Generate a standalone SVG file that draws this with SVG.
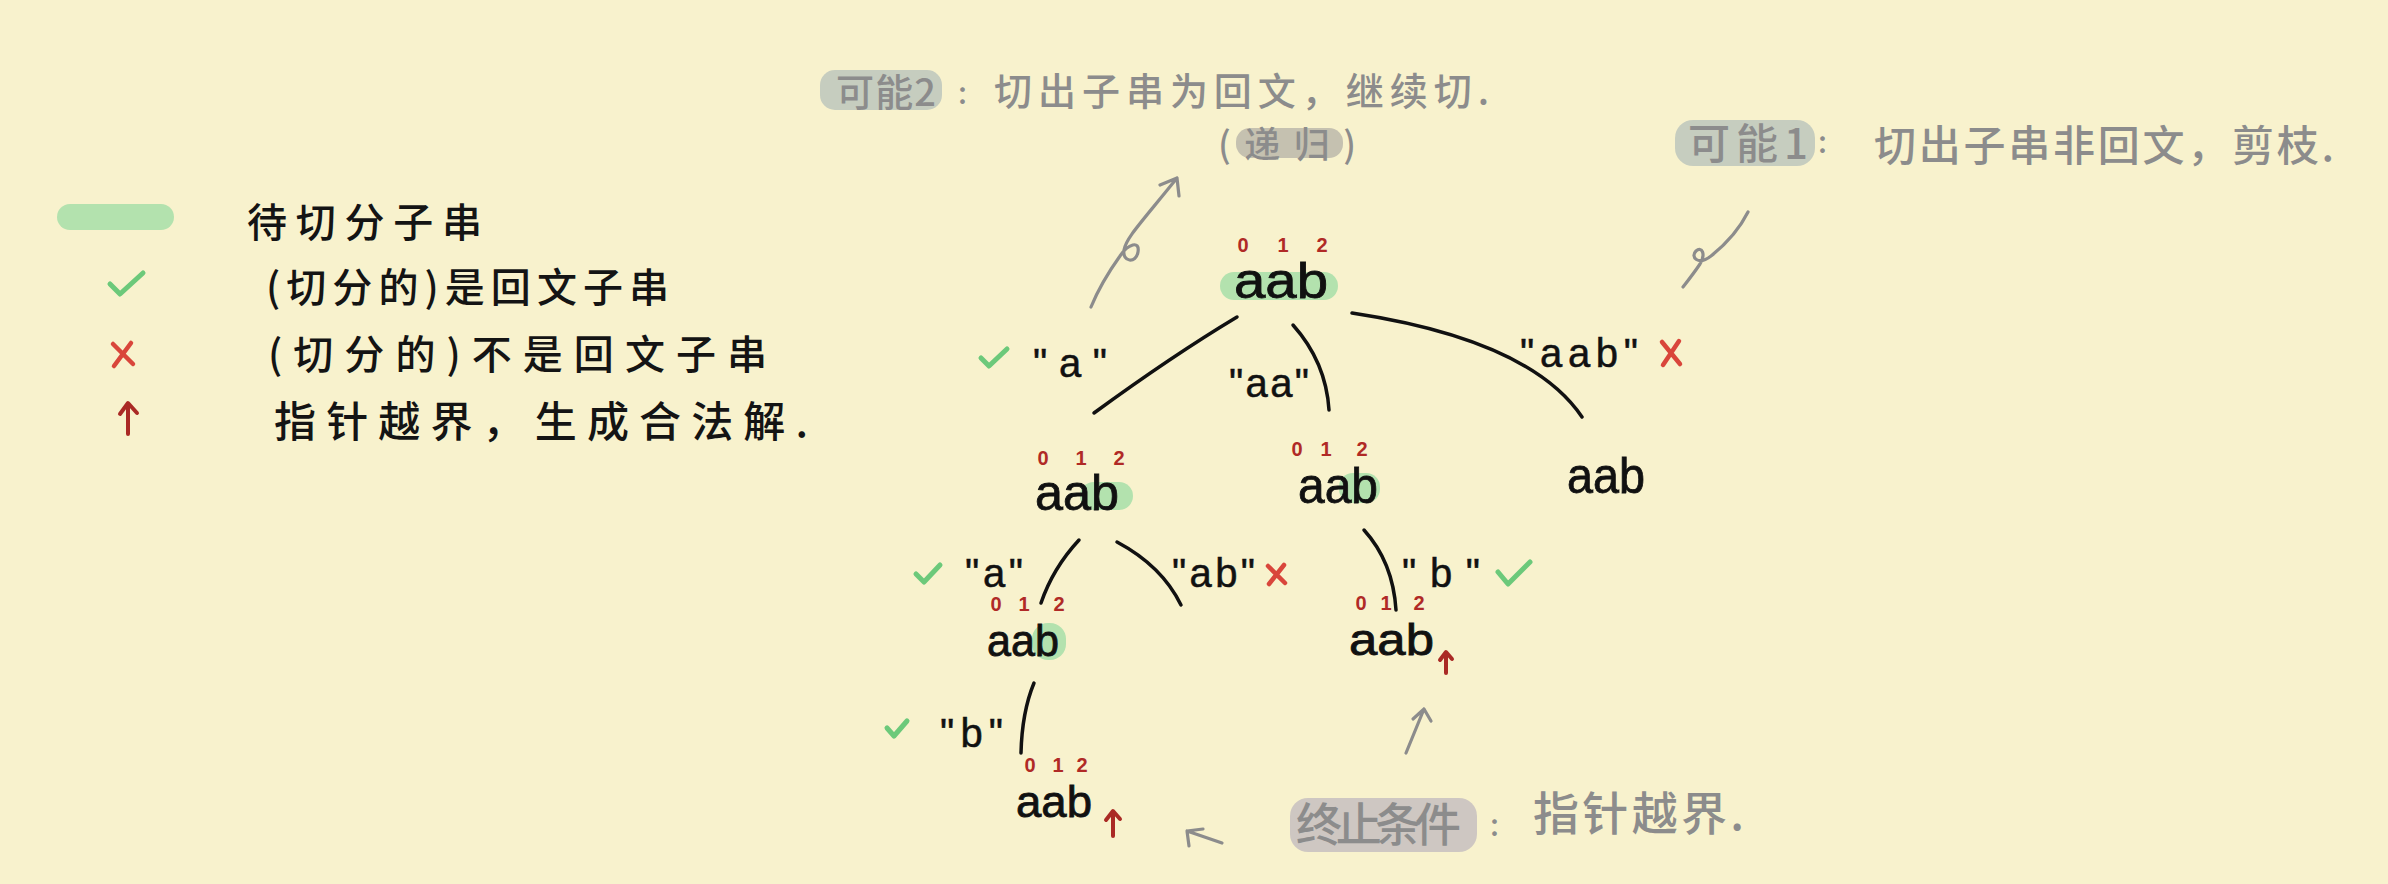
<svg xmlns="http://www.w3.org/2000/svg" width="2388" height="884" viewBox="0 0 2388 884">
<style>
.bg{fill:#f8f2cd}
.cjk{font-family:"Noto Sans CJK SC","Noto Sans",sans-serif;dominant-baseline:central;font-weight:500}
.blk{fill:#141414}
.gry{fill:#8c8c8c}
.str{font-family:"Liberation Sans","DejaVu Sans",sans-serif;font-size:50px;fill:#111;stroke:#111;stroke-width:0.8}
.sm{font-size:44px}
.lbl{font-family:"Liberation Sans","DejaVu Sans",sans-serif;font-size:40px;fill:#111;stroke:#111;stroke-width:0.5}
.idx{font-family:"Liberation Sans","DejaVu Sans",sans-serif;font-size:20px;font-weight:bold;fill:#b02a26;text-anchor:middle}
.hlg{fill:#b3e2ae}
.hgs{fill:#c6cdbf}
.hgb{fill:#c5c1b0}
.hgp{fill:#cec7c2}
.edge{fill:none;stroke:#111;stroke-width:3.5;stroke-linecap:round}
.garr{fill:none;stroke:#8c8c8c;stroke-width:3.2;stroke-linecap:round;stroke-linejoin:round}
.ok{fill:none;stroke:#6cc97a;stroke-width:5;stroke-linecap:round;stroke-linejoin:round}
.no{fill:none;stroke:#d9463b;stroke-width:4.5;stroke-linecap:round}
.up{fill:none;stroke:#aa2a25;stroke-width:4;stroke-linecap:round;stroke-linejoin:round}
</style>
<rect class="bg" x="0" y="0" width="2388" height="884"/>

<g id="legend">
  <rect class="hlg" x="57" y="204" width="117" height="26" rx="13"/>
  <text class="cjk blk" x="247" y="220" font-size="40" textLength="235" lengthAdjust="spacing">待切分子串</text>
  <path class="ok" d="M110,284 L120,294 L143,273"/>
  <text class="cjk blk" x="266" y="285" font-size="40" textLength="403" lengthAdjust="spacing">(切分的)是回文子串</text>
  <path class="no" d="M113,344 L133,364 M131,343 L114,366"/>
  <text class="cjk blk" x="268" y="352" font-size="40" textLength="499" lengthAdjust="spacing">(切分的)不是回文子串</text>
  <path class="up" d="M128,434 L128,404 M120,414 L128,403 L137,413"/>
  <text class="cjk blk" x="274" y="418" font-size="42" textLength="534" lengthAdjust="spacing">指针越界，生成合法解.</text>
</g>

<g id="note-possible2">
  <rect class="hgs" x="820" y="70" width="122" height="40" rx="15"/>
  <text class="cjk gry" x="836" y="89" font-size="38" textLength="100" lengthAdjust="spacing">可能2</text>
  <text class="cjk gry" x="958" y="91" font-size="30">:</text>
  <text class="cjk gry" x="994" y="88" font-size="38" textLength="495" lengthAdjust="spacing">切出子串为回文，继续切.</text>
  <rect class="hgb" x="1236" y="128" width="107" height="30" rx="14"/>
  <text class="cjk gry" x="1218" y="142" font-size="36" textLength="138" lengthAdjust="spacing">(递归)</text>
</g>

<g id="note-possible1">
  <rect class="hgs" x="1675" y="120" width="140" height="46" rx="18"/>
  <text class="cjk gry" x="1688" y="140" font-size="42" textLength="120" lengthAdjust="spacing">可能1</text>
  <text class="cjk gry" x="1818" y="140" font-size="30">:</text>
  <text class="cjk gry" x="1874" y="142" font-size="42" textLength="460" lengthAdjust="spacing">切出子串非回文，剪枝.</text>
</g>

<g id="note-terminate">
  <rect class="hgp" x="1290" y="798" width="187" height="54" rx="18"/>
  <text class="cjk gry" x="1296" y="821" font-size="46" textLength="165" lengthAdjust="spacing">终止条件</text>
  <text class="cjk gry" x="1490" y="823" font-size="30">:</text>
  <text class="cjk gry" x="1533" y="810" font-size="46" textLength="211" lengthAdjust="spacing">指针越界.</text>
</g>

<g id="connectors">
  <path class="edge" d="M1237,317 Q1172,356 1094,413"/>
  <path class="edge" d="M1293,325 Q1326,362 1329,410"/>
  <path class="edge" d="M1352,313 Q1530,340 1582,417"/>
  <path class="edge" d="M1079,540 Q1053,568 1041,603"/>
  <path class="edge" d="M1117,542 Q1162,566 1181,605"/>
  <path class="edge" d="M1364,530 Q1393,562 1396,610"/>
  <path class="edge" d="M1034,683 Q1022,712 1021,753"/>
  <path class="garr" d="M1091,307 C1100,285 1110,270 1120,256 C1128,244 1140,240 1138,252 C1136,264 1122,262 1124,250 C1126,238 1140,224 1177,178 M1160,185 L1177,178 L1179,196"/>
  <path class="garr" d="M1683,287 Q1694,273 1700,264 C1706,254 1702,246 1696,251 C1690,257 1698,266 1711,256 Q1736,236 1748,212"/>
  <path class="garr" d="M1406,753 L1424,709 M1413,719 L1424,709 L1431,721"/>
  <path class="garr" d="M1222,843 L1187,831 M1189,846 L1187,831 L1203,829"/>
</g>

<g id="edge-labels">
  <path class="ok" d="M981,358 L989,366 L1007,349"/>
  <text class="lbl" x="1033" y="377" textLength="74" lengthAdjust="spacing">"a"</text>
  <text class="lbl" x="1229" y="397" textLength="80" lengthAdjust="spacing">"aa"</text>
  <text class="lbl" x="1520" y="367" textLength="118" lengthAdjust="spacing">"aab"</text>
  <path class="no" d="M1662,342 L1680,364 M1679,341 L1663,365"/>
  <path class="ok" d="M916,574 L924,582 L940,565"/>
  <text class="lbl" x="965" y="587" textLength="58" lengthAdjust="spacing">"a"</text>
  <text class="lbl" x="1172" y="587" textLength="83" lengthAdjust="spacing">"ab"</text>
  <path class="no" d="M1268,566 L1285,583 M1284,565 L1269,584"/>
  <text class="lbl" x="1402" y="587" textLength="78" lengthAdjust="spacing">"b"</text>
  <path class="ok" d="M1498,572 L1508,584 L1530,562"/>
  <path class="ok" d="M887,728 L894,736 L907,721"/>
  <text class="lbl" x="940" y="747" textLength="63" lengthAdjust="spacing">"b"</text>
</g>

<g id="node-root">
  <rect class="hlg" x="1220" y="272" width="118" height="28" rx="14"/>
  <text class="idx" x="1243 1283 1322" y="252">012</text>
  <text class="str" x="1234" y="298" textLength="94" lengthAdjust="spacingAndGlyphs">aab</text>
</g>
<g id="node-a">
  <rect class="hlg" x="1080" y="482" width="53" height="28" rx="14"/>
  <text class="idx" x="1043 1081 1119" y="465">012</text>
  <text class="str" x="1035" y="510" textLength="84" lengthAdjust="spacingAndGlyphs">aab</text>
</g>
<g id="node-aa">
  <rect class="hlg" x="1339" y="473" width="41" height="30" rx="14"/>
  <text class="idx" x="1297 1326 1362" y="456">012</text>
  <text class="str" x="1298" y="503" textLength="80" lengthAdjust="spacingAndGlyphs">aab</text>
</g>
<g id="node-aab">
  <text class="str" x="1567" y="493" textLength="78" lengthAdjust="spacingAndGlyphs">aab</text>
</g>
<g id="node-a-a">
  <rect class="hlg" x="1032" y="623" width="34" height="37" rx="16"/>
  <text class="idx" x="996 1024 1059" y="611">012</text>
  <text class="str sm" x="987" y="656" textLength="72" lengthAdjust="spacingAndGlyphs">aab</text>
</g>
<g id="node-aa-b">
  <text class="idx" x="1361 1386 1419" y="610">012</text>
  <text class="str sm" x="1349" y="655" textLength="85" lengthAdjust="spacingAndGlyphs">aab</text>
  <path class="up" d="M1446,673 L1446,653 M1440,660 L1446,652 L1452,659"/>
</g>
<g id="node-a-a-b">
  <text class="idx" x="1030 1058 1082" y="772">012</text>
  <text class="str sm" x="1016" y="817" textLength="76" lengthAdjust="spacingAndGlyphs">aab</text>
  <path class="up" d="M1113,836 L1113,812 M1106,820 L1113,811 L1120,819"/>
</g>
</svg>
